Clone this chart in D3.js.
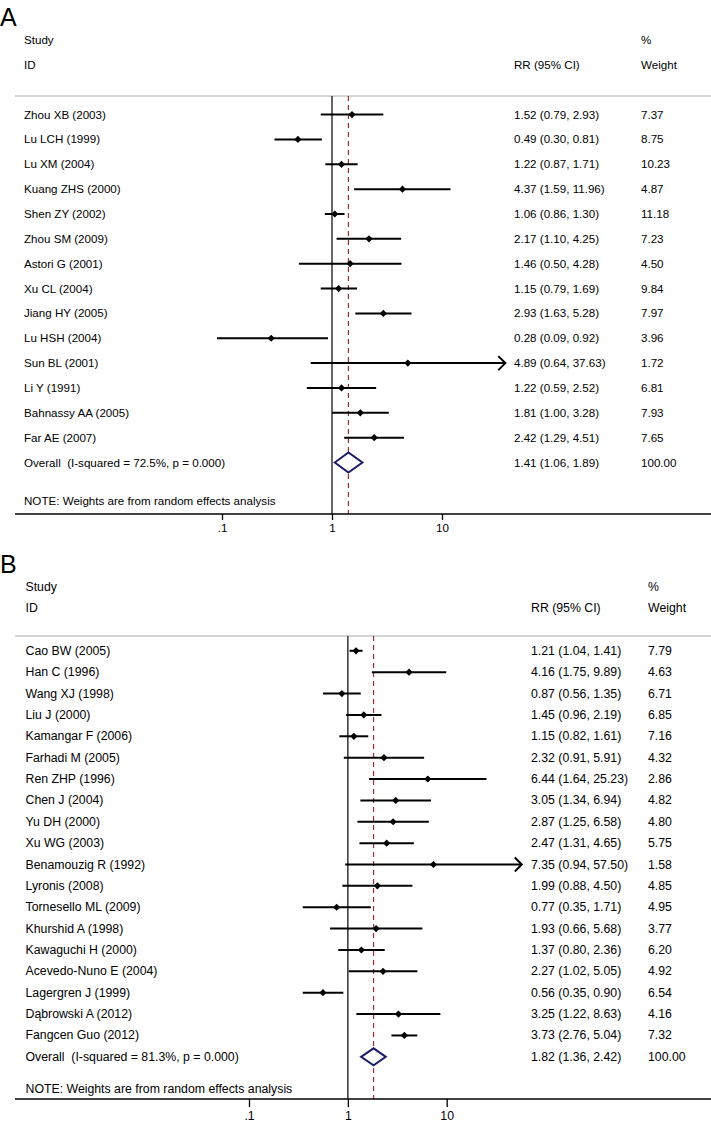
<!DOCTYPE html>
<html>
<head>
<meta charset="utf-8">
<script src="https://cdn.jsdelivr.net/npm/d3@7"></script>
<style>
  html, body { margin: 0; padding: 0; background: #fff; }
  svg { display: block; font-family: "Liberation Sans", Arial, sans-serif; }
</style>
</head>
<body>
<svg id="chart" width="711" height="1132"></svg>
<script>
// ---------------- Panel A data ----------------
const studiesA = ["Zhou XB (2003)", "Lu LCH (1999)", "Lu XM (2004)", "Kuang ZHS (2000)", "Shen ZY (2002)",
  "Zhou SM (2009)", "Astori G (2001)", "Xu CL (2004)", "Jiang HY (2005)", "Lu HSH (2004)",
  "Sun BL (2001)", "Li Y (1991)", "Bahnassy AA (2005)", "Far AE (2007)"];
const rrA = [1.52, 0.49, 1.22, 4.37, 1.06, 2.17, 1.46, 1.15, 2.93, 0.28, 4.89, 1.22, 1.81, 2.42];
const loA = [0.79, 0.30, 0.87, 1.59, 0.86, 1.10, 0.50, 0.79, 1.63, 0.09, 0.64, 0.59, 1.00, 1.29];
const hiA = [2.93, 0.81, 1.71, 11.96, 1.30, 4.25, 4.28, 1.69, 5.28, 0.92, 37.63, 2.52, 3.28, 4.51];
const weightA = [7.37, 8.75, 10.23, 4.87, 11.18, 7.23, 4.50, 9.84, 7.97, 3.96, 1.72, 6.81, 7.93, 7.65];
const overallA = { rr: 1.41, lo: 1.06, hi: 1.89, weight: 100.00, i2: "72.5%", p: "0.000" };

// ---------------- Panel B data ----------------
const studiesB = ["Cao BW (2005)", "Han C (1996)", "Wang XJ (1998)", "Liu J (2000)", "Kamangar F (2006)",
  "Farhadi M (2005)", "Ren ZHP (1996)", "Chen J (2004)", "Yu DH (2000)", "Xu WG (2003)",
  "Benamouzig R (1992)", "Lyronis (2008)", "Tornesello ML (2009)", "Khurshid A (1998)",
  "Kawaguchi H (2000)", "Acevedo-Nuno E (2004)", "Lagergren J (1999)", "Dąbrowski A (2012)", "Fangcen Guo (2012)"];
const rrB = [1.21, 4.16, 0.87, 1.45, 1.15, 2.32, 6.44, 3.05, 2.87, 2.47, 7.35, 1.99, 0.77, 1.93, 1.37, 2.27, 0.56, 3.25, 3.73];
const loB = [1.04, 1.75, 0.56, 0.96, 0.82, 0.91, 1.64, 1.34, 1.25, 1.31, 0.94, 0.88, 0.35, 0.66, 0.80, 1.02, 0.35, 1.22, 2.76];
const hiB = [1.41, 9.89, 1.35, 2.19, 1.61, 5.91, 25.23, 6.94, 6.58, 4.65, 57.50, 4.50, 1.71, 5.68, 2.36, 5.05, 0.90, 8.63, 5.04];
const weightB = [7.79, 4.63, 6.71, 6.85, 7.16, 4.32, 2.86, 4.82, 4.80, 5.75, 1.58, 4.85, 4.95, 3.77, 6.20, 4.92, 6.54, 4.16, 7.32];
const overallB = { rr: 1.82, lo: 1.36, hi: 2.42, weight: 100.00, i2: "81.3%", p: "0.000" };

const tickValues = [0.1, 1, 10];
const tickLabels = [".1", "1", "10"];

// ---------------- drawing ----------------
const svg = d3.select("#chart");
const f2 = d3.format(".2f");

function drawPanel(cfg) {
  const g = svg.append("g");
  const x = d3.scaleLog().domain([0.1, 10]).range(cfg.xRange);
  const n = cfg.studies.length;
  const y = d3.scaleLinear().domain([0, 1]).range([cfg.row0, cfg.row0 + cfg.step]);
  const fs = cfg.fontSize + "px";

  // panel letter
  g.append("text").attr("x", 0).attr("y", cfg.letterY).attr("font-size", "25px").text(cfg.letter);

  // headers
  const head = g.append("g").attr("font-size", fs).attr("fill", "#000");
  head.append("text").attr("x", cfg.labelX).attr("y", y(-3) + 4).text("Study");
  head.append("text").attr("x", cfg.labelX).attr("y", y(-2) + 4).text("ID");
  head.append("text").attr("x", cfg.rrX).attr("y", y(-2) + 4).text("RR (95% CI)");
  head.append("text").attr("x", cfg.wX).attr("y", y(-3) + 4).text("%");
  head.append("text").attr("x", cfg.wX).attr("y", y(-2) + 4).text("Weight");

  // header rule
  g.append("line").attr("x1", 15).attr("x2", 711).attr("y1", cfg.ruleY).attr("y2", cfg.ruleY)
    .attr("stroke", "#c4c4c4").attr("stroke-width", 1.5);

  // null line & overall dashed line
  g.append("line").attr("x1", x(1)).attr("x2", x(1)).attr("y1", cfg.ruleY).attr("y2", cfg.axisY)
    .attr("stroke", "#333").attr("stroke-width", 1.5);
  g.append("line").attr("x1", x(cfg.overall.rr)).attr("x2", x(cfg.overall.rr))
    .attr("y1", cfg.ruleY).attr("y2", cfg.axisY)
    .attr("stroke", "#a8282f").attr("stroke-width", 1.2).attr("stroke-dasharray", "5,4");

  // study rows
  const rows = g.selectAll("g.row").data(cfg.studies.map((s, i) => ({
    s, i, rr: cfg.rr[i], lo: cfg.lo[i], hi: cfg.hi[i], w: cfg.weight[i]
  }))).join("g").attr("class", "row");

  rows.append("text").attr("x", cfg.labelX).attr("y", d => y(d.i) + 4).attr("font-size", fs).text(d => d.s);
  rows.append("text").attr("x", cfg.rrX).attr("y", d => y(d.i) + 4).attr("font-size", fs)
    .text(d => `${f2(d.rr)} (${f2(d.lo)}, ${f2(d.hi)})`);
  rows.append("text").attr("x", cfg.wX).attr("y", d => y(d.i) + 4).attr("font-size", fs).text(d => f2(d.w));

  rows.append("line").attr("x1", d => x(d.lo)).attr("x2", d => x(d.hi))
    .attr("y1", d => y(d.i)).attr("y2", d => y(d.i))
    .attr("stroke", "#000").attr("stroke-width", 2);
  rows.filter(d => d.hi > cfg.arrowAbove).append("path")
    .attr("d", d => {
      const xe = x(d.hi), yy = y(d.i);
      return `M${xe - 7},${yy - 7} L${xe},${yy} L${xe - 7},${yy + 7}`;
    })
    .attr("fill", "none").attr("stroke", "#000").attr("stroke-width", 2);
  rows.append("path")
    .attr("d", d => {
      const cx = x(d.rr), cy = y(d.i), r = 3.6;
      return `M${cx - r},${cy} L${cx},${cy - r} L${cx + r},${cy} L${cx},${cy + r} Z`;
    })
    .attr("fill", "#000");

  // overall row
  const o = cfg.overall;
  const oy = y(n);
  g.append("text").attr("x", cfg.labelX).attr("y", oy + 4).attr("font-size", fs)
    .attr("xml:space", "preserve")
    .text(`Overall  (I-squared = ${o.i2}, p = ${o.p})`);
  g.append("text").attr("x", cfg.rrX).attr("y", oy + 4).attr("font-size", fs)
    .text(`${f2(o.rr)} (${f2(o.lo)}, ${f2(o.hi)})`);
  g.append("text").attr("x", cfg.wX).attr("y", oy + 4).attr("font-size", fs).text(f2(o.weight));
  const dh = cfg.diamondH;
  g.append("path")
    .attr("d", `M${x(o.lo)},${oy} L${x(o.rr)},${oy - dh} L${x(o.hi)},${oy} L${x(o.rr)},${oy + dh} Z`)
    .attr("fill", "#fff").attr("stroke", "#1c1c6b").attr("stroke-width", 2);

  // note
  g.append("text").attr("x", cfg.labelX).attr("y", cfg.noteY).attr("font-size", fs)
    .text("NOTE: Weights are from random effects analysis");

  // axis
  g.append("line").attr("x1", 15).attr("x2", 711).attr("y1", cfg.axisY).attr("y2", cfg.axisY)
    .attr("stroke", "#000").attr("stroke-width", 1.5);
  const axis = d3.axisBottom(x).tickValues(tickValues)
    .tickFormat((d, i) => tickLabels[i]).tickSize(cfg.tickLen).tickPadding(4);
  const ag = g.append("g").attr("transform", `translate(0,${cfg.axisY})`).call(axis);
  ag.select(".domain").remove();
  ag.selectAll(".tick line").attr("stroke", "#000").attr("stroke-width", 1.3);
  ag.selectAll(".tick text").attr("font-size", fs).attr("fill", "#000")
    .attr("font-family", "Liberation Sans, Arial, sans-serif");
}

drawPanel({
  letter: "A", letterY: 26,
  studies: studiesA, rr: rrA, lo: loA, hi: hiA, weight: weightA, overall: overallA,
  xRange: [222, 442], row0: 114.6, step: 24.85,
  labelX: 24, rrX: 514, wX: 641, fontSize: 11.6,
  ruleY: 96, axisY: 514, noteY: 505, tickLen: 6, diamondH: 10, arrowAbove: 30
});

drawPanel({
  letter: "B", letterY: 573,
  studies: studiesB, rr: rrB, lo: loB, hi: hiB, weight: weightB, overall: overallB,
  xRange: [249, 446.7], row0: 650.8, step: 21.37,
  labelX: 25.5, rrX: 531, wX: 648, fontSize: 12.3,
  ruleY: 636, axisY: 1099, noteY: 1093, tickLen: 8, diamondH: 8.5, arrowAbove: 40
});
</script>
</body>
</html>
